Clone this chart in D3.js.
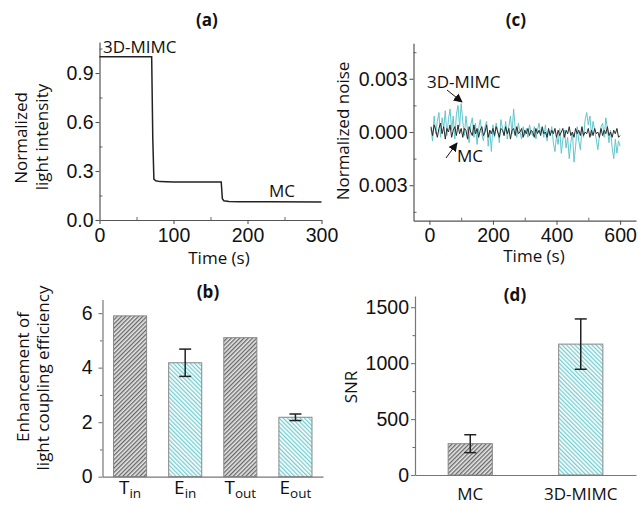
<!DOCTYPE html>
<html><head><meta charset="utf-8">
<script src="https://cdn.jsdelivr.net/npm/d3@7"></script>
<style>body{margin:0;background:#fff}svg{display:block}</style>
</head><body>
<svg id="c" width="638" height="505"></svg>
<script>
// ---------------- DATA ----------------
// (a) normalized light intensity vs time
const intensityTime  = [0, 70.5, 72, 73.5, 76, 82, 100, 140, 164.5, 166, 168, 175, 190, 230, 300];
const intensityValue = [1.0, 1.0, 0.5, 0.25, 0.24, 0.235, 0.233, 0.233, 0.233, 0.13, 0.118, 0.114, 0.112, 0.111, 0.110];

// (c) normalized noise (units of 1e-4), sampled every 5 s from 5 s to 600 s
const noiseTimes = d3.range(5, 605, 5);
const noiseMIMC = [
  2, -5, 9, -1, 6, 11, -3, 8, 2, 12, -2, 7, 13, 1, 9, -4, 10, 15, 3, 16,
  6, -2, 9, 1, -6, 4, 8, -3, 5, -7, 2, 7, -1, -5, 3, 6, -8, 1, -11, 4,
  -3, 5, 1, -6, 7, 2, -2, 6, -4, 3, 9, -1, 13, 2, -3, 5, 0, -4, 3, -2,
  2, -3, 4, 0, -2, 3, -4, 1, 5, -1, 2, -3, 4, -5, 1, -2, 3, -6, -11, -2,
  -7, 2, -12, -4, 1, -9, -3, -15, -6, 0, -17, -8, 3, -5, -10, 2, -3, 7, 11, 4,
  9, -2, 6, 1, -4, -10, -2, 3, 5, -3, 8, 2, -6, 1, -9, -15, -4, -12, -5, -8];
const noiseMC = [
  3, -2, 4, 1, -3, 2, 5, -1, 3, -4, 2, 0, 4, -3, 1, 3, -2, 4, -1, 2,
  -3, 2, 1, -4, 3, 0, -2, 4, -1, 2, -3, 1, 3, -2, 0, 4, -3, 1, -1, 2,
  -2, 3, 0, -3, 2, 1, -2, 3, -1, 2, -4, 1, 2, -2, 3, -1, 0, 2, -3, 1,
  -1, 2, -2, 1, 0, -3, 2, -1, 1, -2, 3, -1, 0, -3, 2, -2, 1, -1, 2, -3,
  1, -2, 0, 2, -3, 1, -1, 3, -2, 0, -3, 2, -1, 1, -2, 3, -2, 0, -1, 2,
  -3, 1, -2, 2, -1, 0, -3, 2, -2, 1, -1, 3, -2, 0, -3, 1, -1, 2, -3, -2];

// (b) enhancement of light coupling efficiency
const enhCategories = [["T","in"], ["E","in"], ["T","out"], ["E","out"]];
const enhValues = [5.9, 4.18, 5.1, 2.18];
const enhErrors = [0, 0.5, 0, 0.12];
const enhKind   = ["gray", "cyan", "gray", "cyan"];

// (d) SNR
const snrCategories = ["MC", "3D-MIMC"];
const snrValues = [280, 1170];
const snrErrors = [80, 225];
const snrKind   = ["gray", "cyan"];

// tick values
const ticksAx = [0, 100, 200, 300], minorAx = [50, 150, 250];
const ticksAy = [0, 0.3, 0.6, 0.9], minorAy = [0.15, 0.45, 0.75, 1.05];
const ticksCx = [0, 200, 400, 600], minorCx = [100, 300, 500];
const ticksCy = [-0.003, 0, 0.003], minorCy = [-0.0045, -0.0015, 0.0015, 0.0045];
const ticksBy = [0, 2, 4, 6], minorBy = [1, 3, 5];
const ticksDy = [0, 500, 1000, 1500], minorDy = [250, 750, 1250];

// ---------------- DRAW ----------------
const svg = d3.select("#c");
const TF = "'Liberation Sans', Arial, sans-serif";
const LF = "'Open Sans', sans-serif";
const defs = svg.append("defs");
function hatch(id, bg, fg, angle) {
  const p = defs.append("pattern").attr("id", id).attr("width", 3).attr("height", 3)
    .attr("patternUnits", "userSpaceOnUse").attr("patternTransform", `rotate(${angle})`);
  p.append("rect").attr("width", 3).attr("height", 3).attr("fill", bg);
  p.append("line").attr("x1", 0.7).attr("y1", 0).attr("x2", 0.7).attr("y2", 3)
    .attr("stroke", fg).attr("stroke-width", 1.1);
}
hatch("hgray", "#e6e6e6", "#505050", 45);
hatch("hcyan", "#ffffff", "#5cc5ca", -45);
const fillOf = k => k === "gray" ? "url(#hgray)" : "url(#hcyan)";

const mk = defs.append("marker").attr("id", "arr").attr("viewBox", "0 0 10 10")
  .attr("refX", 9).attr("refY", 5).attr("markerWidth", 9).attr("markerHeight", 9)
  .attr("markerUnits", "userSpaceOnUse").attr("orient", "auto");
mk.append("path").attr("d", "M0,0 L10,5 L0,10 z").attr("fill", "#111");

function styleAxis(g, color) {
  g.select(".domain").attr("stroke", color).attr("stroke-width", 1.2);
  g.selectAll(".tick line").attr("stroke", color).attr("stroke-width", 1.1);
  g.selectAll("text").attr("font-family", TF).attr("font-size", 19.5).attr("fill", "#111");
}
function minor(g) { g.select(".domain").remove(); g.selectAll(".tick line").attr("stroke", "#666"); }

function text(x, y, s, opts = {}) {
  const t = svg.append("text").attr("x", x).attr("y", y).text(s)
    .attr("font-family", LF).attr("font-size", opts.size || 17)
    .attr("font-weight", opts.bold ? "bold" : "normal")
    .attr("text-anchor", opts.anchor || "middle").attr("fill", "#111");
  if (opts.rot) t.attr("transform", `rotate(-90,${x},${y})`);
  return t;
}

// ---- Panel (a)
{
  const x = d3.scaleLinear().domain([0, 300]).range([99.5, 321.5]);
  const y = d3.scaleLinear().domain([0, 1.09]).range([220, 42]);
  svg.append("g").attr("transform", "translate(0,220)")
    .call(d3.axisBottom(x).tickValues(minorAx).tickSize(-3).tickFormat("")).call(minor);
  svg.append("g").attr("transform", "translate(99.5,0)")
    .call(d3.axisLeft(y).tickValues(minorAy).tickSize(-3).tickFormat("")).call(minor);
  svg.append("g").attr("transform", "translate(0,220)")
    .call(d3.axisBottom(x).tickValues(ticksAx).tickSize(4).tickPadding(4).tickSizeOuter(0))
    .call(g => styleAxis(g, "#555"));
  svg.append("g").attr("transform", "translate(99.5,0)")
    .call(d3.axisLeft(y).tickValues(ticksAy).tickFormat(d3.format(".1f")).tickSize(4).tickPadding(2).tickSizeOuter(0))
    .call(g => styleAxis(g, "#555"));
  const pts = intensityTime.map((t, i) => [t, intensityValue[i]]);
  svg.append("path").datum(pts).attr("fill", "none").attr("stroke", "#222").attr("stroke-width", 1.5)
    .attr("d", d3.line().x(d => x(d[0])).y(d => y(d[1])));
  text(207, 26, "(a)", {bold: true});
  text(103, 53, "3D-MIMC", {anchor: "start"});
  text(282, 197, "MC");
  text(219, 264, "Time (s)");
  text(27, 138, "Normalized", {rot: true});
  text(48, 137, "light intensity", {rot: true});
}

// ---- Panel (c)
{
  const x = d3.scaleLinear().domain([-50, 650]).range([413.5, 636]);
  const y = d3.scaleLinear().domain([-0.005, 0.005]).range([220.7, 43.3]);
  svg.append("g").attr("transform", "translate(0,220.7)")
    .call(d3.axisBottom(x).tickValues(minorCx).tickSize(-3).tickFormat("")).call(minor);
  svg.append("g").attr("transform", "translate(413.5,0)")
    .call(d3.axisLeft(y).tickValues(minorCy).tickSize(-3).tickFormat("")).call(minor);
  svg.append("g").attr("transform", "translate(0,220.7)")
    .call(d3.axisBottom(x).tickValues(ticksCx).tickSize(4).tickPadding(3).tickSizeOuter(0))
    .call(g => styleAxis(g, "#555"));
  svg.append("g").attr("transform", "translate(413.5,0)")
    .call(d3.axisLeft(y).tickValues(ticksCy).tickFormat(d => d3.format(".3f")(Math.abs(d))).tickSize(4).tickPadding(2).tickSizeOuter(0))
    .call(g => styleAxis(g, "#555"));
  const line = d3.line().x(d => x(d[0])).y(d => y(d[1] * 1e-4));
  svg.append("path").datum(noiseTimes.map((t, i) => [t, noiseMIMC[i]]))
    .attr("fill", "none").attr("stroke", "#62c6cc").attr("stroke-width", 1).attr("d", line);
  svg.append("path").datum(noiseTimes.map((t, i) => [t, noiseMC[i]]))
    .attr("fill", "none").attr("stroke", "#2a2a2a").attr("stroke-width", 1).attr("d", line);
  text(516, 26, "(c)", {bold: true});
  text(427, 88, "3D-MIMC", {anchor: "start"});
  svg.append("line").attr("x1", 447).attr("y1", 90).attr("x2", 462).attr("y2", 102)
    .attr("stroke", "#111").attr("stroke-width", 1).attr("marker-end", "url(#arr)");
  text(457, 162, "MC", {anchor: "start"});
  svg.append("line").attr("x1", 446).attr("y1", 158).attr("x2", 457).attr("y2", 143)
    .attr("stroke", "#111").attr("stroke-width", 1).attr("marker-end", "url(#arr)");
  text(534, 262, "Time (s)");
  text(349, 131, "Normalized noise", {rot: true});
}

// ---- Panel (b)
{
  const x = d3.scaleBand().domain(d3.range(enhValues.length)).range([102.5, 323]).paddingInner(0.4).paddingOuter(0.2);
  const y = d3.scaleLinear().domain([0, 6.5]).range([476.7, 299.5]);
  svg.append("g").attr("transform", "translate(102.5,0)")
    .call(d3.axisLeft(y).tickValues(minorBy).tickSize(2.5).tickFormat("")).call(minor);
  svg.selectAll(".barB").data(enhValues).join("rect")
    .attr("x", (d, i) => x(i)).attr("width", x.bandwidth())
    .attr("y", d => y(d)).attr("height", d => y(0) - y(d))
    .attr("fill", (d, i) => fillOf(enhKind[i])).attr("stroke", "#888").attr("stroke-width", 1);
  enhValues.forEach((v, i) => {
    const e = enhErrors[i]; if (!e) return;
    const cx = x(i) + x.bandwidth() / 2, g = svg.append("g").attr("stroke", "#222").attr("stroke-width", 1.5);
    g.append("line").attr("x1", cx).attr("x2", cx).attr("y1", y(v - e)).attr("y2", y(v + e));
    [v - e, v + e].forEach(b => g.append("line").attr("x1", cx - 6).attr("x2", cx + 6).attr("y1", y(b)).attr("y2", y(b)));
  });
  svg.append("g").attr("transform", "translate(0,476.7)")
    .call(d3.axisBottom(x).tickSize(0).tickFormat("").tickSizeOuter(0)).call(g => styleAxis(g, "#777"));
  svg.append("g").attr("transform", "translate(102.5,0)")
    .call(d3.axisLeft(y).tickValues(ticksBy).tickFormat(d3.format("d")).tickSize(4).tickPadding(6).tickSizeOuter(0))
    .call(g => styleAxis(g, "#777"));
  enhCategories.forEach((c, i) => {
    const t = text(x(i) + x.bandwidth() / 2, 494, c[0], {size: 19});
    t.append("tspan").attr("dy", 4).attr("font-size", 13.5).text(c[1]);
  });
  text(208, 298, "(b)", {bold: true});
  text(29, 377, "Enhancement of", {rot: true});
  text(49, 378, "light coupling efficiency", {rot: true});
}

// ---- Panel (d)
{
  const x = d3.scaleBand().domain(snrCategories).range([415, 636]).paddingInner(0.6).paddingOuter(0.3);
  const y = d3.scaleLinear().domain([0, 1600]).range([475, 296]);
  svg.append("g").attr("transform", "translate(415,0)")
    .call(d3.axisLeft(y).tickValues(minorDy).tickSize(2.5).tickFormat("")).call(minor);
  svg.selectAll(".barD").data(snrValues).join("rect")
    .attr("x", (d, i) => x(snrCategories[i])).attr("width", x.bandwidth())
    .attr("y", d => y(d)).attr("height", d => y(0) - y(d))
    .attr("fill", (d, i) => fillOf(snrKind[i])).attr("stroke", "#888").attr("stroke-width", 1);
  snrValues.forEach((v, i) => {
    const e = snrErrors[i];
    const cx = x(snrCategories[i]) + x.bandwidth() / 2, g = svg.append("g").attr("stroke", "#222").attr("stroke-width", 1.5);
    g.append("line").attr("x1", cx).attr("x2", cx).attr("y1", y(v - e)).attr("y2", y(v + e));
    [v - e, v + e].forEach(b => g.append("line").attr("x1", cx - 6).attr("x2", cx + 6).attr("y1", y(b)).attr("y2", y(b)));
  });
  svg.append("g").attr("transform", "translate(0,475)")
    .call(d3.axisBottom(x).tickSize(0).tickPadding(10).tickSizeOuter(0)).call(g => styleAxis(g, "#777"))
    .call(g => g.selectAll("text").attr("font-family", LF).attr("font-size", 17).attr("dy", null).attr("y", 25));
  svg.append("g").attr("transform", "translate(415,0)")
    .call(d3.axisLeft(y).tickValues(ticksDy).tickFormat(d3.format("d")).tickSize(4).tickPadding(2).tickSizeOuter(0))
    .call(g => styleAxis(g, "#777"));
  text(515, 301, "(d)", {bold: true});
  text(357, 387, "SNR", {rot: true});
}
</script>
</body></html>
